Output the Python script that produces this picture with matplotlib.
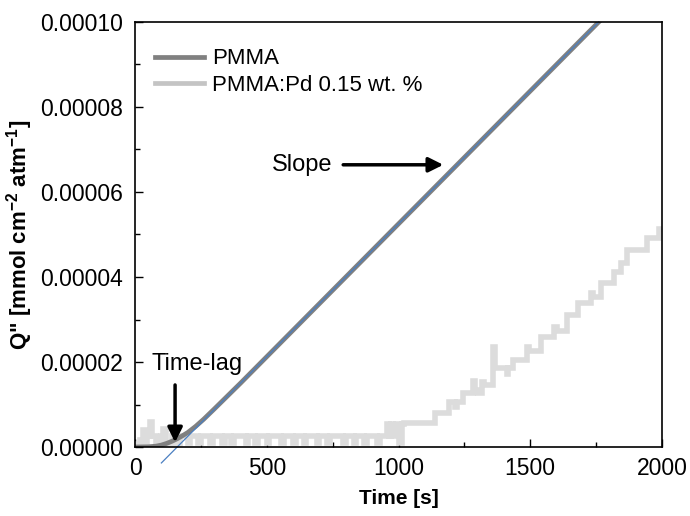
import matplotlib
matplotlib.use("Agg")
import matplotlib.pyplot as plt
from matplotlib.lines import Line2D

plt.rcParams["font.family"] = ["Liberation Sans", "DejaVu Sans"]
plt.rcParams["mathtext.fontset"] = "custom"
plt.rcParams["mathtext.rm"] = "Liberation Sans"
plt.rcParams["mathtext.bf"] = "Liberation Sans:bold"

# PMMA: permeated amount (units of 1e-6 mmol cm^-2 atm^-1)
t_pmma = [0, 50, 80, 100, 120, 140, 160, 180, 200, 230, 260, 300, 350, 400,
          500, 700, 1000, 1300, 1600, 1760, 2000]
q_pmma = [0, 0.05, 0.2, 0.45, 0.85, 1.35, 1.95, 2.65, 3.4, 4.85, 6.5, 8.9, 11.95, 15.0,
          21.25, 33.75, 52.5, 71.25, 90.0, 100.0, 115.0]

# tangent (steady state) line: time-lag and end point
t_fit = [100, 1760]
q_fit = [-3.75, 100.0]

# PMMA:Pd 0.15 wt. % (stepwise, units of 1e-6)
t_pd = [0, 20, 30, 36, 45, 58, 66, 80, 100, 108, 116, 140, 150, 170, 200, 210,
        240, 250, 285, 295, 330, 340, 365, 375, 420, 430, 455, 465, 500, 510,
        555, 565, 600, 610, 640, 650, 690, 700, 730, 740, 790, 800, 830, 840,
        870, 880, 920, 930, 955, 963, 972, 980, 990, 1000, 1012, 1020, 1140,
        1190, 1215, 1222, 1245, 1282, 1290, 1300, 1318, 1325, 1360, 1366, 1375,
        1410, 1416, 1435, 1488, 1495, 1540, 1590, 1600, 1640, 1680, 1730, 1740,
        1768, 1818, 1843, 1868, 1943, 1987, 2000]
q_pd = [0.8, 1.6, 4.0, 0.8, 2.6, 5.8, 2.6, 0.8, 2.6, 4.2, 0.8, 2.6, 0.8, 2.6, 1.0, 2.6,
        1.0, 2.6, 1.0, 2.6, 1.0, 2.6, 1.0, 2.6, 1.0, 2.6, 1.0, 2.6, 1.0, 2.6,
        1.0, 2.6, 1.0, 2.6, 1.0, 2.6, 1.0, 2.6, 1.0, 2.6, 1.0, 2.6, 1.0, 2.6,
        1.0, 2.6, 1.0, 2.6, 5.4, 2.6, 5.4, 2.6, 5.4, 1.0, 5.4, 5.6, 8.0,
        10.6, 9.5, 10.6, 12.7, 15.6, 13.5, 12.7, 15.2, 14.5, 23.5, 18.5, 18.5,
        17.2, 18.5, 20.5, 23.5, 22.6, 25.9, 28.2, 27.3, 31.0, 33.9, 36.2, 35.4,
        38.6, 41.2, 43.3, 46.4, 49.2, 51.3, 51.3]

SCALE = 1e-6

fig = plt.figure(figsize=(6.9, 5.16), dpi=100)
ax = fig.add_axes([0.1957, 0.1337, 0.7637, 0.8237])

ax.plot(t_pd, [v * SCALE for v in q_pd], drawstyle="steps-post",
        color="#dcdcdc", lw=4, solid_joinstyle="miter")
ax.plot(t_pmma, [v * SCALE for v in q_pmma], color="#808080", lw=3.4)
ax.plot(t_fit, [v * SCALE for v in q_fit], color="#4a7fc1", lw=0.9, clip_on=False)

ax.set_xlim(0, 2000)
ax.set_ylim(0, 1e-4)
ax.set_xticks([0, 500, 1000, 1500, 2000])
ax.set_xticks([250, 750, 1250, 1750], minor=True)
ax.set_yticks([0, 2e-5, 4e-5, 6e-5, 8e-5, 1e-4])
ax.set_yticks([1e-5, 3e-5, 5e-5, 7e-5, 9e-5], minor=True)
ax.yaxis.set_major_formatter(matplotlib.ticker.FormatStrFormatter("%.5f"))
ax.tick_params(which="both", direction="in", top=False, right=False,
               labelsize=16.5, width=1)
ax.tick_params(which="major", length=6)
ax.tick_params(which="minor", length=3.5)
ax.tick_params(axis="x", pad=7)
ax.tick_params(axis="y", pad=9)
for s in ax.spines.values():
    s.set_linewidth(1.2)

ax.set_xlabel("Time [s]", fontsize=15, fontweight="bold", labelpad=7)
ax.set_ylabel(r'Q" [mmol cm$^{\mathbf{-2}}$ atm$^{\mathbf{-1}}$]',
              fontsize=16, fontweight="bold", labelpad=3)

handles = [Line2D([], [], color="#808080", lw=3.4),
           Line2D([], [], color="#c4c4c4", lw=3.4)]
ax.legend(handles, ["PMMA", "PMMA:Pd 0.15 wt. %"], loc="upper left",
          bbox_to_anchor=(0.0, 0.985), frameon=False, fontsize=16,
          handlelength=2.2, handletextpad=0.35, labelspacing=0.25,
          borderaxespad=0.5)

arrow = dict(arrowstyle="-|>", lw=2.5, color="k", mutation_scale=22,
             shrinkA=0, shrinkB=0)
ax.annotate("", xy=(1170, 6.64e-5), xytext=(790, 6.64e-5), arrowprops=arrow)
ax.text(520, 6.64e-5, "Slope", fontsize=17, va="center", ha="left")
ax.annotate("", xy=(152, 1.1e-6), xytext=(152, 1.46e-5), arrowprops=arrow)
ax.text(235, 1.95e-5, "Time-lag", fontsize=17, va="center", ha="center")

fig.savefig("out.png", dpi=100)
